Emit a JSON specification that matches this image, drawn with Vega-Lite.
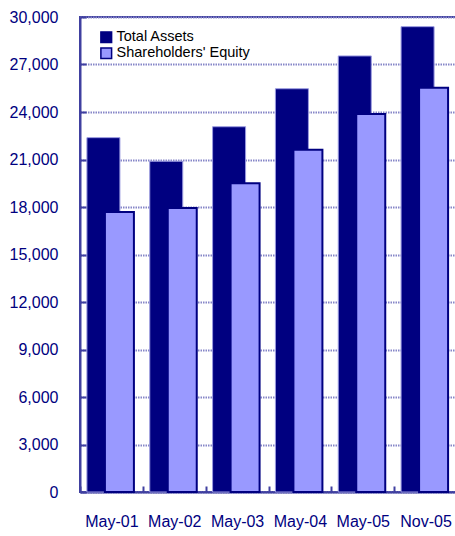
{
  "$schema": "https://vega.github.io/schema/vega-lite/v6.json",
  "width": 377,
  "height": 475,
  "autosize": "none",
  "padding": {"left": 80, "top": 17, "right": 0, "bottom": 44},
  "background": "white",
  "config": {
    "font": "Liberation Sans",
    "view": {"stroke": "#4040a0", "strokeWidth": 2}
  },
  "data": {
    "values": [
      {"period": "May-01", "series": "Total Assets", "value": 22380},
      {"period": "May-02", "series": "Total Assets", "value": 20890},
      {"period": "May-03", "series": "Total Assets", "value": 23070},
      {"period": "May-04", "series": "Total Assets", "value": 25470},
      {"period": "May-05", "series": "Total Assets", "value": 27540},
      {"period": "Nov-05", "series": "Total Assets", "value": 29390},
      {"period": "May-01", "series": "Shareholders' Equity", "value": 17680},
      {"period": "May-02", "series": "Shareholders' Equity", "value": 17940},
      {"period": "May-03", "series": "Shareholders' Equity", "value": 19500},
      {"period": "May-04", "series": "Shareholders' Equity", "value": 21620},
      {"period": "May-05", "series": "Shareholders' Equity", "value": 23870},
      {"period": "Nov-05", "series": "Shareholders' Equity", "value": 25530}
    ]
  },
  "encoding": {
    "x": {
      "field": "period", "type": "nominal", "sort": null,
      "scale": {"paddingInner": 0, "paddingOuter": 0},
      "axis": {
        "title": null, "labelAngle": 0, "labelFontSize": 16, "labelColor": "#000080",
        "domainColor": "#4040a0", "domainWidth": 2, "tickColor": "#4040a0", "tickWidth": 2,
        "tickSize": -6, "tickBand": "extent", "labelPadding": 27, "grid": false
      }
    },
    "y": {
      "field": "value", "type": "quantitative",
      "scale": {"domain": [0, 30000], "nice": false},
      "axis": {
        "title": null, "values": [0, 3000, 6000, 9000, 12000, 15000, 18000, 21000, 24000, 27000, 30000],
        "format": ",.0f", "labelFontSize": 16, "labelColor": "#000080",
        "domainColor": "#4040a0", "domainWidth": 2, "tickColor": "#4040a0", "tickWidth": 2,
        "tickSize": -6, "labelPadding": 28,
        "grid": true, "gridColor": "#8686c8", "gridDash": [1.5, 1], "gridWidth": 2
      }
    }
  },
  "layer": [
    {
      "transform": [{"filter": "datum.series === 'Total Assets'"}],
      "mark": {"type": "bar", "width": 33, "xOffset": -8, "stroke": "#9a9ae0", "strokeWidth": 1},
      "encoding": {
        "color": {
          "field": "series", "type": "nominal",
          "scale": {"domain": ["Total Assets", "Shareholders' Equity"], "range": ["#000080", "#9999ff"]},
          "legend": {
            "title": null, "orient": "none", "legendX": 19, "legendY": 13, "padding": 0,
            "symbolType": "square", "symbolSize": 115, "symbolStrokeWidth": 1.5, "symbolOpacity": 1,
            "labelFontSize": 14.5, "labelColor": "#000000", "labelOffset": 3, "rowPadding": -2.5
          }
        }
      }
    },
    {
      "transform": [{"filter": "datum.series !== 'Total Assets'"}],
      "mark": {"type": "bar", "width": 29, "xOffset": 8, "strokeWidth": 2},
      "encoding": {
        "color": {"field": "series", "type": "nominal"},
        "stroke": {
          "field": "series", "type": "nominal",
          "scale": {"domain": ["Total Assets", "Shareholders' Equity"], "range": ["#000080", "#000080"]}
        }
      }
    }
  ]
}
